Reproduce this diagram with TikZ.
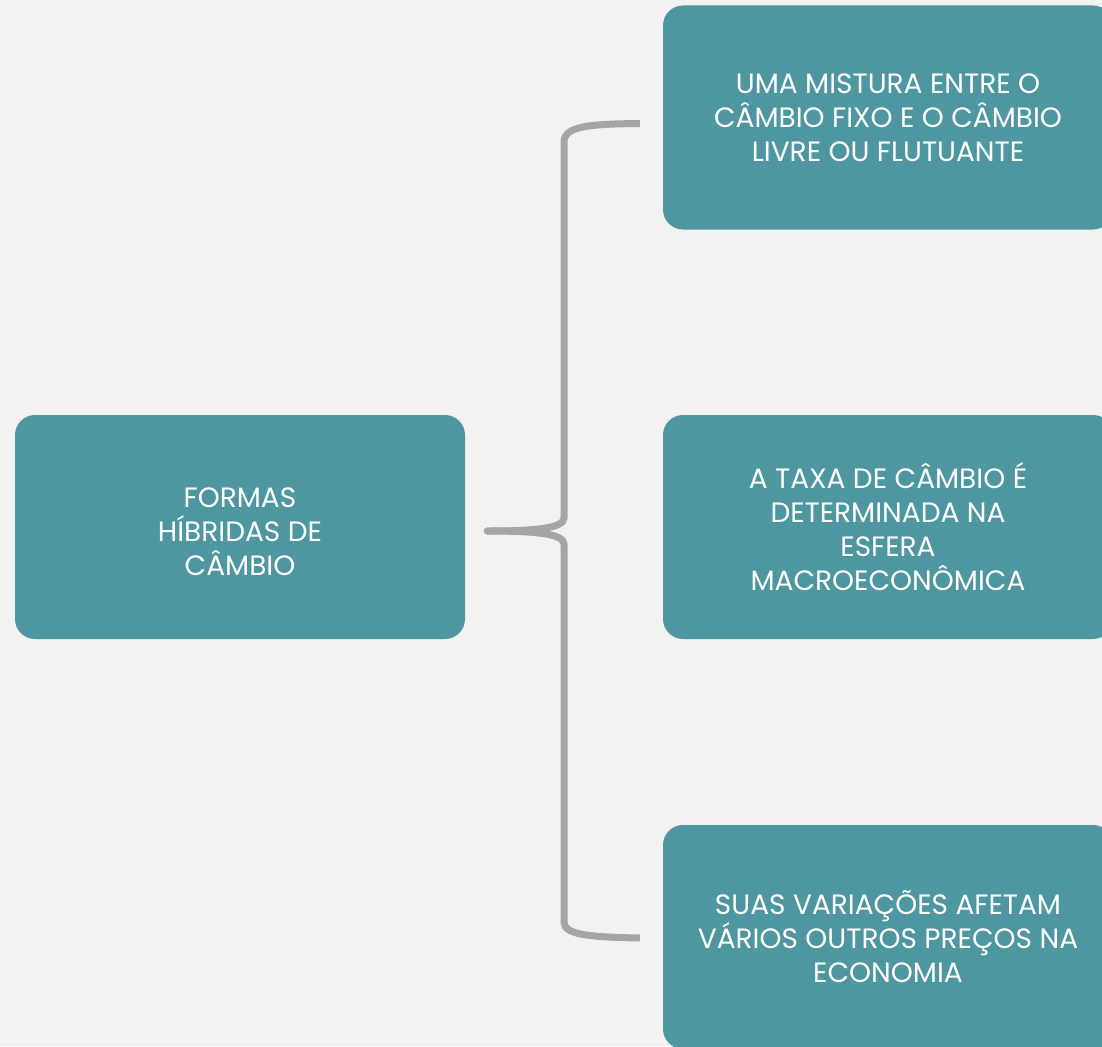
\documentclass[tikz,border=0pt]{standalone}
\usepackage{fontspec}
\setmainfont{Poppins}
\definecolor{bg}{HTML}{F2F2F2}
\definecolor{teal}{HTML}{4E97A0}
\definecolor{brace}{HTML}{A5A5A5}
\begin{document}
\begin{tikzpicture}[x=1pt,y=-1pt,
  txt/.style={text=white,align=center,font=\fontsize{28}{34}\selectfont},
  box/.style={fill=teal,rounded corners=20pt,minimum width=450pt,minimum height=224pt,
    txt,inner sep=0pt},
  bracket/.style={draw=brace,line width=7pt,line cap=butt}]
\fill[bg] (0,0) rectangle (1102,1046);
\useasboundingbox (0,0) rectangle (1102,1046);
\node[box,label={[txt,yshift=-5pt]center:FORMAS\\HÍBRIDAS DE\\CÂMBIO}] (root) at (240,527) {};
\node[box] (a) at (888,117.5) {UMA MISTURA ENTRE O\\CÂMBIO FIXO E O CÂMBIO\\LIVRE OU FLUTUANTE};
\node[box] (b) at (888,527) {A TAXA DE CÂMBIO É\\DETERMINADA NA\\ESFERA\\MACROECONÔMICA};
\node[box] (c) at (888,937) {SUAS VARIAÇÕES AFETAM\\VÁRIOS OUTROS PREÇOS NA\\ECONOMIA};
\coordinate (tip) at ([xshift=22pt,yshift=-4pt]root.east);
\coordinate (ta) at ([xshift=-23pt,yshift=-6pt]a.west);
\coordinate (tc) at ([xshift=-23pt,yshift=-1pt]c.west);
\draw[bracket] (ta) .. controls (590,124) and (564,126) .. (564,142)
  -- (564,518) .. controls (564,529) and (530,531) .. (tip);
\draw[bracket] (tc) .. controls (590,937) and (564,935) .. (564,922)
  -- (564,544) .. controls (564,533) and (530,531) .. (tip);
\fill[brace] (tip) circle (3.5pt);
\end{tikzpicture}
\end{document}
